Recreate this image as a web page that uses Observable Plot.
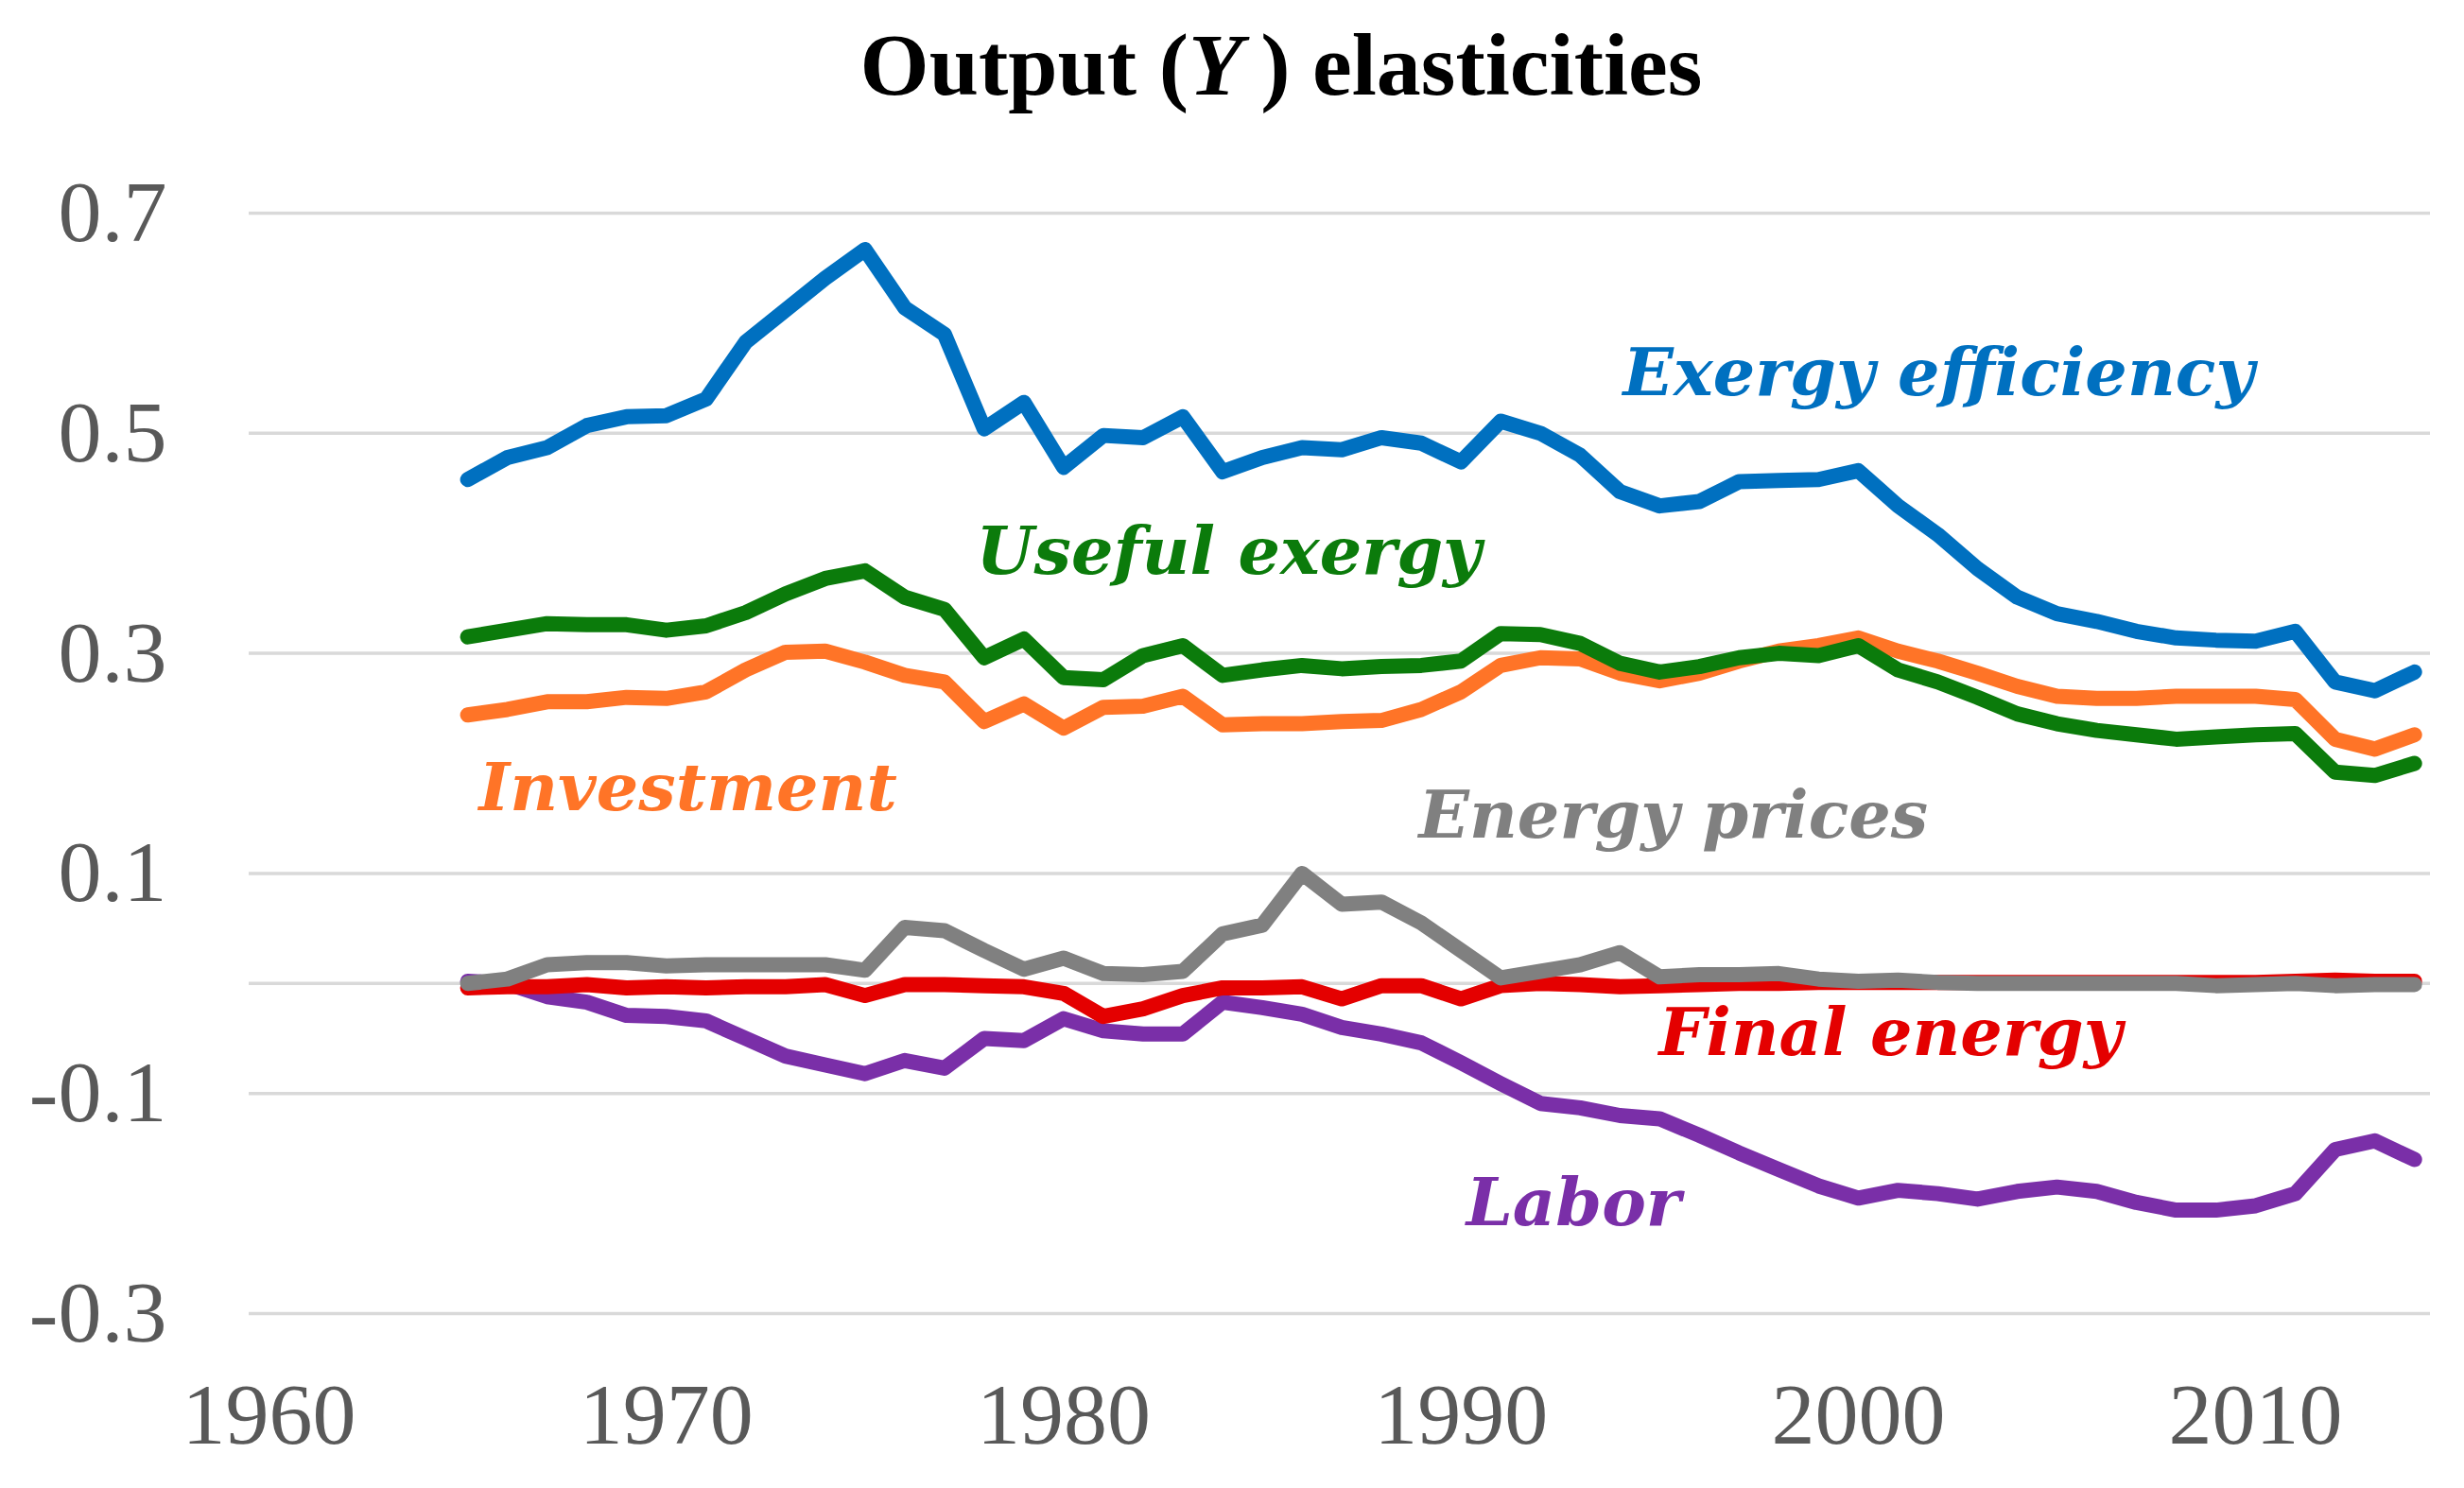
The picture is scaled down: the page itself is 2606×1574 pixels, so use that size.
<!DOCTYPE html>
<html><head><meta charset="utf-8">
<script src="https://cdn.jsdelivr.net/npm/d3@7"></script>
<script src="https://cdn.jsdelivr.net/npm/@observablehq/plot@0.6"></script>
<style>html,body{margin:0;padding:0;background:#fff;} #chart{width:2606px;height:1574px;}</style>
</head><body><div id="chart"></div>
<script>
const years = [1965,1966,1967,1968,1969,1970,1971,1972,1973,1974,1975,1976,1977,1978,1979,1980,1981,1982,1983,1984,
  1985,1986,1987,1988,1989,1990,1991,1992,1993,1994,1995,1996,1997,1998,1999,2000,2001,2002,2003,2004,
  2005,2006,2007,2008,2009,2010,2011,2012,2013,2014];

const exergyEfficiency = [0.458,0.478,0.487,0.507,0.515,0.516,0.531,0.583,0.612,0.641,0.667,0.614,0.590,0.504,0.528,0.469,0.498,0.496,0.515,0.465,
  0.478,0.487,0.485,0.496,0.491,0.474,0.511,0.500,0.480,0.447,0.434,0.438,0.456,0.457,0.458,0.466,0.434,0.408,0.377,0.351,
  0.336,0.329,0.320,0.314,0.312,0.311,0.320,0.274,0.266,0.283];
const usefulExergy = [0.315,0.321,0.327,0.326,0.326,0.321,0.325,0.337,0.354,0.368,0.375,0.351,0.340,0.296,0.313,0.278,0.276,0.298,0.307,0.280,
  0.285,0.289,0.286,0.288,0.289,0.293,0.318,0.317,0.309,0.291,0.283,0.288,0.296,0.300,0.298,0.307,0.285,0.274,0.260,0.245,
  0.236,0.230,0.226,0.222,0.224,0.226,0.227,0.192,0.189,0.200];
const investment = [0.244,0.249,0.256,0.256,0.260,0.259,0.265,0.285,0.301,0.302,0.292,0.280,0.274,0.238,0.254,0.232,0.251,0.252,0.261,0.235,
  0.236,0.236,0.238,0.239,0.249,0.265,0.289,0.296,0.295,0.282,0.275,0.282,0.293,0.302,0.307,0.314,0.302,0.293,0.282,0.270,
  0.261,0.259,0.259,0.261,0.261,0.261,0.258,0.222,0.213,0.226];
const energyPrices = [0.000,0.004,0.017,0.019,0.019,0.016,0.017,0.017,0.017,0.017,0.012,0.051,0.048,0.030,0.013,0.023,0.009,0.008,0.011,0.045,
  0.053,0.100,0.072,0.074,0.055,0.030,0.005,0.011,0.017,0.028,0.006,0.008,0.008,0.009,0.004,0.002,0.003,0.001,0.000,0.000,
  0.000,0.000,0.000,0.000,-0.002,-0.001,0.000,-0.002,-0.001,-0.001];
const finalEnergy = [-0.004,-0.003,-0.003,-0.001,-0.004,-0.003,-0.004,-0.003,-0.003,-0.001,-0.011,-0.001,-0.001,-0.002,-0.003,-0.009,-0.030,-0.023,-0.011,-0.004,
  -0.004,-0.003,-0.014,-0.002,-0.002,-0.014,-0.002,0.000,-0.001,-0.003,-0.002,-0.001,0.000,0.000,0.001,0.001,0.001,0.001,0.001,0.001,
  0.001,0.001,0.001,0.001,0.001,0.001,0.002,0.003,0.002,0.002];
const labor = [0.002,0.000,-0.012,-0.017,-0.029,-0.030,-0.034,-0.050,-0.066,-0.074,-0.082,-0.070,-0.077,-0.050,-0.052,-0.032,-0.043,-0.046,-0.046,-0.017,
  -0.022,-0.028,-0.040,-0.046,-0.054,-0.072,-0.091,-0.109,-0.113,-0.120,-0.123,-0.138,-0.154,-0.169,-0.184,-0.195,-0.188,-0.191,-0.196,-0.189,
  -0.185,-0.189,-0.199,-0.206,-0.206,-0.202,-0.191,-0.151,-0.143,-0.160];

const seriesNames = ["Investment","Useful exergy","Exergy efficiency","Labor","Final energy","Energy prices"];
const seriesValues = [investment, usefulExergy, exergyEfficiency, labor, finalEnergy, energyPrices];
const seriesColors = ["#FF7427","#0B7B0B","#0070C0","#7A2FA8","#E40000","#808080"];

const yTicks = [-0.3,-0.1,0.1,0.3,0.5,0.7];
const xTicks = [1960,1970,1980,1990,2000,2010];

// series label anchors (year, value) for the in-chart annotations
const labelText = ["Exergy efficiency","Useful exergy","Investment","Energy prices","Final energy","Labor"];
const labelYear = [1994.08,1977.80,1965.28,1988.94,1994.98,1990.13];
const labelValue = [0.5347,0.3724,0.1577,0.1328,-0.0647,-0.2193];
const labelColor = ["#0070C0","#0B7B0B","#FF7427","#808080","#E40000","#7A2FA8"];

const rows = seriesNames.flatMap((name, i) => years.map((year, j) => ({series: name, year, value: seriesValues[i][j]})));
const labels = labelText.map((t, i) => ({text: t, year: labelYear[i], value: labelValue[i], color: labelColor[i]}));

const lineMarks = seriesNames.map((name, i) => Plot.line(rows.filter(d => d.series === name), {
  x: "year", y: "value", stroke: seriesColors[i], strokeWidth: 16, strokeLinejoin: "round", strokeLinecap: "round"
}));

const chart = Plot.plot({
  width: 2606,
  height: 1574,
  marginTop: 225,
  marginBottom: 185,
  marginLeft: 263,
  marginRight: 36,
  style: {fontFamily: "'Liberation Serif', serif", fontSize: "90px", color: "#595959", background: "#fff"},
  x: {domain: [1959.5, 2014.4]},
  y: {domain: [-0.3, 0.7]},
  marks: [
    Plot.ruleY([...yTicks, 0], {stroke: "#D9D9D9", strokeWidth: 3.5}),
    ...lineMarks,
    Plot.axisX({ticks: xTicks, tickFormat: d => String(d), tickSize: 0, tickPadding: 72, fontSize: 92, label: null}),
    Plot.axisY({ticks: yTicks, tickFormat: d => d.toFixed(1), tickSize: 0, tickPadding: 87, fontSize: 92, label: null}),
    Plot.text(labels, {x: "year", y: "value", text: "text", fill: "color", textAnchor: "start", lineAnchor: "bottom",
      fontFamily: "'DejaVu Serif', serif", fontStyle: "italic", fontWeight: "bold", fontSize: 70})
  ]
});

const svg = d3.select(chart);
const title = svg.append("text")
  .attr("x", 1355).attr("y", 100)
  .attr("text-anchor", "middle")
  .attr("fill", "#000")
  .style("font-family", "'Liberation Serif', serif")
  .style("font-weight", "bold")
  .style("font-size", "94px");
title.append("tspan").text("Output (");
title.append("tspan").style("font-style", "italic").text("Y");
title.append("tspan").text("\u2009) elasticities");

document.getElementById("chart").appendChild(chart);
</script>
</body></html>
